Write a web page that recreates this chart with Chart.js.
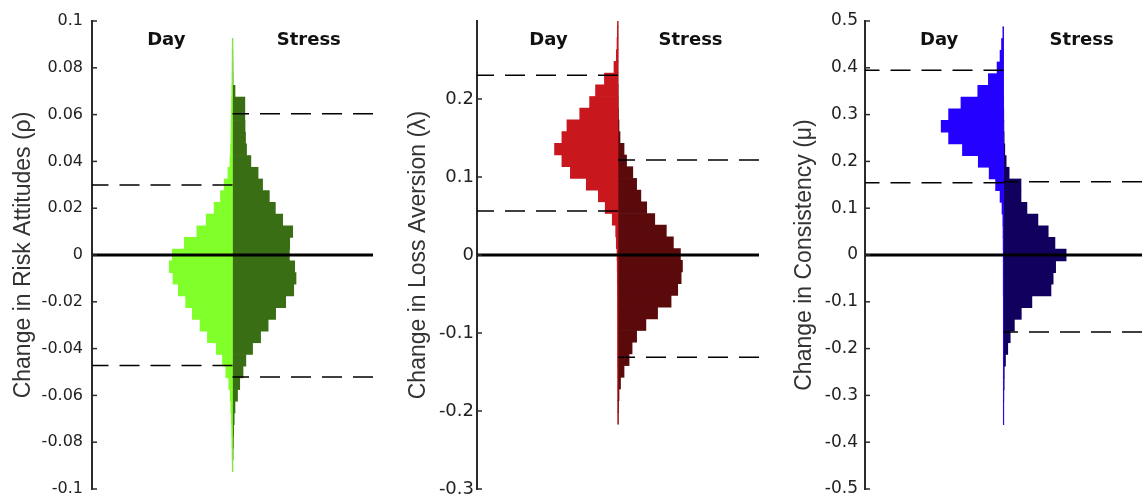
<!DOCTYPE html>
<html>
<head>
<meta charset="utf-8">
<script src="https://cdn.jsdelivr.net/npm/chart.js@4.4.1/dist/chart.umd.min.js"></script>
<style>
  html, body { margin: 0; padding: 0; background: #fff; overflow: hidden; }
  #wrap { position: relative; width: 1142px; height: 497px; overflow: hidden; }
  .panel { position: absolute; top: 0; }
</style>
</head>
<body>
<div id="wrap">
  <div class="panel" style="left:0px"><canvas id="risk" width="374" height="500"></canvas></div>
  <div class="panel" style="left:390px"><canvas id="loss" width="370" height="500"></canvas></div>
  <div class="panel" style="left:780px"><canvas id="cons" width="362" height="500"></canvas></div>
</div>
<script>
// === DATA (histogram bin centres, bar lengths) ===

// Risk attitudes (rho)
const riskBins = [-0.09, -0.085, -0.08, -0.075, -0.07, -0.065, -0.06, -0.055, -0.05, -0.045, -0.04, -0.035, -0.03, -0.025, -0.02, -0.015, -0.01, -0.005,
  0, 0.005, 0.01, 0.015, 0.02, 0.025, 0.03, 0.035, 0.04, 0.045, 0.05, 0.055, 0.06, 0.065, 0.07, 0.075, 0.08, 0.085, 0.09];
const riskDay = [0.3, 0.5, 0.7, 0.9, 1.2, 1.7, 2.3, 3.7, 6.7, 10, 16.2, 25, 32.3, 40, 46.7, 54, 59.3, 63,
  60, 48, 35.5, 26.2, 18.3, 12, 8.3, 4.5, 2.5, 2, 1.6, 1.4, 1.2, 1, 0.8, 0.6, 0.5, 0.4, 0.3];
const riskStress = [0.3, 0.6, 0.9, 1.1, 1.7, 2.5, 5, 7.2, 10.5, 13.3, 20, 28, 35.5, 43, 53, 61, 63.3, 62,
  56.7, 57, 60, 50, 42.7, 36.7, 30, 25.5, 18.3, 14, 13, 12.5, 12.3, 12.3, 2.5, 0.6, 0.5, 0.4, 0.3];
const riskDayCI = [-0.0472, 0.0299];
const riskStressCI = [-0.0521, 0.0604];
const riskTicks = [-0.1, -0.08, -0.06, -0.04, -0.02, 0, 0.02, 0.04, 0.06, 0.08, 0.1];
const riskTickLabels = ['-0.1', '-0.08', '-0.06', '-0.04', '-0.02', '0', '0.02', '0.04', '0.06', '0.08', '0.1'];

// Loss aversion (lambda)
const lossBins = [-0.2093, -0.1943, -0.1793, -0.1643, -0.1493, -0.1343, -0.1193, -0.1043, -0.0893, -0.0743, -0.0593, -0.0443, -0.0293, -0.0143,
  0.0007, 0.0157, 0.0307, 0.0457, 0.0607, 0.0757, 0.0907, 0.1057, 0.1207, 0.1357, 0.1507, 0.1657, 0.1807, 0.1957, 0.2107, 0.2257, 0.2407, 0.2557, 0.2707, 0.2857, 0.3007];
const lossDay = [0.2, 0.25, 0.3, 0.3, 0.35, 0.4, 0.4, 0.45, 0.5, 0.5, 0.55, 0.6, 0.7, 0.8,
  1, 1.7, 2.3, 5.7, 12.7, 19.5, 31.5, 47.3, 55.7, 63, 55.7, 50.7, 38, 28.2, 22.3, 13.5, 4, 1.7, 1, 0.7, 0.5];
const lossStress = [0.4, 0.6, 1, 2.5, 6, 11, 14, 18.5, 27.7, 39.3, 52.7, 59.3, 62.7, 64,
  62, 55, 48, 36.5, 28.5, 22.7, 18.5, 14.7, 8.5, 6, 2, 1, 0.5, 0.3, 0.2, 0, 0, 0, 0, 0, 0];
const lossDayCI = [0.0564, 0.2303];
const lossStressCI = [-0.1312, 0.1218];
const lossTicks = [-0.3, -0.2, -0.1, 0, 0.1, 0.2];
const lossTickLabels = ['-0.3', '-0.2', '-0.1', '0', '0.1', '0.2'];

// Consistency (mu)
const consBins = [-0.35, -0.325, -0.3, -0.275, -0.25, -0.225, -0.2, -0.175, -0.15, -0.125, -0.1, -0.075, -0.05, -0.025,
  0, 0.025, 0.05, 0.075, 0.1, 0.125, 0.15, 0.175, 0.2, 0.225, 0.25, 0.275, 0.3, 0.325, 0.35, 0.375, 0.4, 0.425, 0.45, 0.475];
const consDay = [0.2, 0.2, 0.2, 0.2, 0.2, 0.2, 0.2, 0.2, 0.2, 0.2, 0.2, 0.3, 0.3, 0.3,
  0.3, 0.4, 0.5, 0.7, 1.5, 3.5, 8, 14.5, 25.5, 41.5, 55.5, 63, 55.5, 43, 26, 15.3, 6.5, 3.5, 2, 0.7];
const consStress = [0.3, 0.3, 0.4, 0.7, 0.8, 2, 4.3, 6.8, 11, 18, 28.7, 48, 50.2, 52.7,
  63.3, 52, 45.2, 34.8, 23.7, 17.7, 17.7, 5.7, 2.7, 1.3, 0.7, 0.4, 0.3, 0.2, 0, 0, 0, 0, 0, 0];
const consDayCI = [0.1545, 0.3946];
const consStressCI = [-0.1645, 0.1567];
const consTicks = [-0.5, -0.4, -0.3, -0.2, -0.1, 0, 0.1, 0.2, 0.3, 0.4, 0.5];
const consTickLabels = ['-0.5', '-0.4', '-0.3', '-0.2', '-0.1', '0', '0.1', '0.2', '0.3', '0.4', '0.5'];

const X_MIN = -140, X_MAX = 140;

// === PLUGIN: inner tick marks + Day / Stress headers ===
const panelDecor = {
  id: 'panelDecor',
  afterDatasetsDraw(chart, args, opts) {
    const { ctx, chartArea, scales: { x, y } } = chart;
    ctx.save();
    ctx.strokeStyle = '#2b2b2b';
    ctx.lineWidth = 1.5;
    y.ticks.forEach(t => {
      const py = y.getPixelForValue(t.value);
      ctx.beginPath();
      ctx.moveTo(chartArea.left, py);
      ctx.lineTo(chartArea.left + 5, py);
      ctx.stroke();
    });
    ctx.fillStyle = '#111';
    ctx.font = 'bold 18px "DejaVu Sans"';
    ctx.textAlign = 'center';
    ctx.textBaseline = 'alphabetic';
    ctx.fillText('Day', x.getPixelForValue(opts.dayX), chartArea.top + 24);
    ctx.fillText('Stress', x.getPixelForValue(opts.stressX), chartArea.top + 24);
    ctx.restore();
  }
};

function makePanel(canvasId, p) {
  const toPoints = (vals, sign) => vals.map((v, i) => ({ x: sign * v, y: p.bins[i] }));
  const dashLine = (y, from, to) => ({
    type: 'line',
    data: [{ x: from, y: y }, { x: to, y: y }],
    borderColor: '#000', borderWidth: 1.5, borderDash: [20, 11],
    pointRadius: 0, fill: false, order: 0
  });
  const barStyle = { type: 'bar', grouped: false, barPercentage: 1, categoryPercentage: 1, borderWidth: 0, order: 2 };

  const datasets = [
    { ...barStyle, data: toPoints(p.day, -1), backgroundColor: p.dayColor },
    { ...barStyle, data: toPoints(p.stress, 1), backgroundColor: p.stressColor },
    { type: 'line', data: [{ x: X_MIN, y: 0 }, { x: X_MAX, y: 0 }], borderColor: '#000', borderWidth: 3, pointRadius: 0, order: 1 }
  ];
  p.dayCI.forEach(v => datasets.push(dashLine(v, 0, X_MIN)));
  p.stressCI.forEach(v => datasets.push(dashLine(v, X_MAX, 0)));

  return new Chart(document.getElementById(canvasId), {
    type: 'bar',
    data: { datasets },
    options: {
      indexAxis: 'y',
      responsive: false,
      animation: false,
      events: [],
      layout: { padding: { top: 21, bottom: 11, left: 0, right: p.rightPad } },
      plugins: {
        legend: { display: false },
        tooltip: { enabled: false },
        panelDecor: { dayX: p.dayX, stressX: p.stressX }
      },
      scales: {
        x: { type: 'linear', min: X_MIN, max: X_MAX, display: false, offset: false },
        y: {
          type: 'linear', position: 'left', min: p.yMin, max: p.yMax, offset: false,
          afterBuildTicks: s => { s.ticks = p.ticks.map(v => ({ value: v })); },
          afterFit: s => { s.width = p.axisWidth; s.paddingTop = 0; s.paddingBottom = 0; },
          grid: { display: false, drawTicks: false, offset: false },
          border: { display: true, color: '#2b2b2b', width: 2 },
          ticks: {
            padding: p.tickPad, color: '#222',
            font: { family: 'DejaVu Sans', size: p.tickSize },
            callback: (v, i) => p.tickLabels[i]
          },
          title: {
            display: true, text: p.title, color: '#333',
            font: { family: 'Liberation Sans', size: 23 },
            padding: { top: p.titlePad, bottom: 0 }
          }
        }
      }
    },
    plugins: [panelDecor]
  });
}

makePanel('risk', {
  bins: riskBins, day: riskDay, stress: riskStress, dayCI: riskDayCI, stressCI: riskStressCI,
  ticks: riskTicks, tickLabels: riskTickLabels, yMin: -0.1, yMax: 0.1,
  title: 'Change in Risk Attitudes (ρ)', dayColor: '#80ff2a', stressColor: '#3a6e14',
  axisWidth: 92, rightPad: 1, tickPad: 9, tickSize: 16, titlePad: 10, dayX: -66, stressX: 76
});
makePanel('loss', {
  bins: lossBins, day: lossDay, stress: lossStress, dayCI: lossDayCI, stressCI: lossStressCI,
  ticks: lossTicks, tickLabels: lossTickLabels, yMin: -0.3, yMax: 0.3,
  title: 'Change in Loss Aversion (λ)', dayColor: '#c8171d', stressColor: '#5b0a0c',
  axisWidth: 87, rightPad: 1, tickPad: 3, tickSize: 18, titlePad: 15, dayX: -69, stressX: 72
});
makePanel('cons', {
  bins: consBins, day: consDay, stress: consStress, dayCI: consDayCI, stressCI: consStressCI,
  ticks: consTicks, tickLabels: consTickLabels, yMin: -0.5, yMax: 0.5,
  title: 'Change in Consistency (μ)', dayColor: '#2400ff', stressColor: '#12005f',
  axisWidth: 85, rightPad: 0, tickPad: 7, tickSize: 17, titlePad: 11, dayX: -65, stressX: 79
});
</script>
</body>
</html>
